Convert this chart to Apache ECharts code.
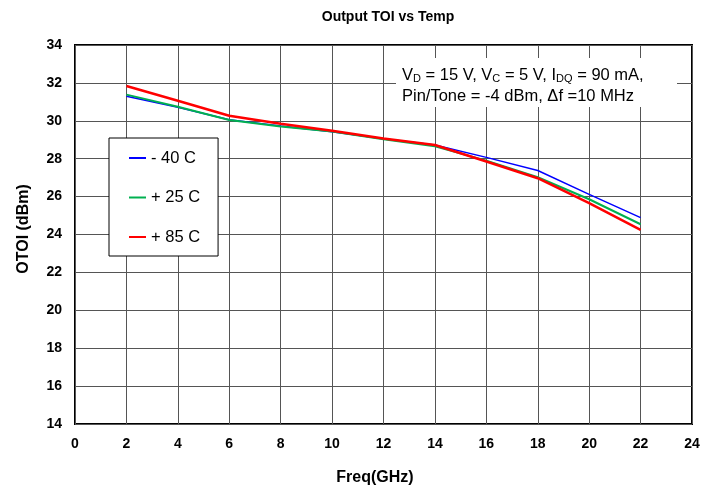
<!DOCTYPE html>
<html>
<head>
<meta charset="utf-8">
<script src="https://cdn.jsdelivr.net/npm/echarts@6/dist/echarts.min.js"></script>
<style>
  html, body { margin: 0; padding: 0; background: #fff; }
  #chart { width: 717px; height: 487px; }
</style>
</head>
<body>
<div id="chart"></div>
<script>
// Frequency points (GHz)
const freqGHz = [2, 4, 6, 8, 10, 12, 14, 16, 18, 20, 22];

// Output TOI (dBm) per temperature
const toiMinus40 = [31.30, 30.72, 30.05, 29.72, 29.42, 29.05, 28.72, 28.07, 27.38, 26.12, 24.89];
const toiPlus25  = [31.38, 30.74, 30.04, 29.70, 29.43, 29.03, 28.65, 27.90, 27.02, 25.86, 24.54];
const toiPlus85  = [31.84, 31.06, 30.27, 29.85, 29.48, 29.07, 28.72, 27.85, 26.97, 25.65, 24.24];

const seriesNames = ['- 40 C', '+ 25 C', '+ 85 C'];

const FONT = 'Arial, "Liberation Sans", Helvetica, sans-serif';

function pairs(xs, ys) {
  return xs.map((x, i) => [x, ys[i]]);
}

const chart = echarts.init(document.getElementById('chart'), null, { renderer: 'canvas' });

chart.setOption({
  backgroundColor: '#ffffff',
  animation: false,
  title: {
    text: 'Output TOI vs Temp',
    left: 383, top: 5,
    textAlign: 'center',
    textStyle: { fontFamily: FONT, fontSize: 14, fontWeight: 'bold', color: '#000' }
  },
  grid: {
    left: 75, right: 25, top: 45, bottom: 63,
    outerBoundsMode: 'none',
    containLabel: false,
    show: true, borderColor: '#000', borderWidth: 2, backgroundColor: 'transparent'
  },
  legend: {
    orient: 'vertical',
    left: 109, top: 138,
    padding: [10, 18, 9, 20],
    itemGap: 19.5,
    itemWidth: 17, itemHeight: 2,
    icon: 'rect',
    backgroundColor: '#fff',
    borderColor: '#000', borderWidth: 1,
    data: seriesNames,
    textStyle: { fontFamily: FONT, fontSize: 16.5, color: '#000', lineHeight: 20 }
  },
  xAxis: {
    type: 'value', min: 0, max: 24, interval: 2,
    name: 'Freq(GHz)', nameLocation: 'middle', nameGap: 46,
    nameTextStyle: { fontFamily: FONT, fontSize: 16, fontWeight: 'bold', color: '#000', padding: [0, 17, 0, 0] },
    axisLine: { show: false },
    axisTick: { show: false },
    axisLabel: { fontFamily: FONT, fontSize: 14, fontWeight: 'bold', color: '#000', margin: 13 },
    splitLine: { show: true, lineStyle: { color: '#555', width: 1 } }
  },
  yAxis: {
    type: 'value', min: 14, max: 34, interval: 2,
    name: 'OTOI (dBm)', nameLocation: 'middle', nameGap: 43, nameRotate: 90,
    nameTextStyle: { fontFamily: FONT, fontSize: 16, fontWeight: 'bold', color: '#000', padding: [0, 0, 0, 11] },
    axisLine: { show: false },
    axisTick: { show: false },
    axisLabel: { fontFamily: FONT, fontSize: 14, fontWeight: 'bold', color: '#000', margin: 13 },
    splitLine: { show: true, lineStyle: { color: '#555', width: 1 } }
  },
  graphic: [
    {
      type: 'rect', z: 10,
      shape: { x: 396, y: 58, width: 281, height: 49 },
      style: { fill: '#fff', stroke: null }
    },
    {
      type: 'text', z: 11,
      x: 402, y: 63,
      style: {
        text: '{n|V}{s|D}{n| = 15 V, V}{s|C}{n| = 5 V, I}{s|DQ}{n| = 90 mA,}\n{n|Pin/Tone = -4 dBm, \u0394f =10 MHz}',
        rich: {
          n: { fontFamily: FONT, fontSize: 16.5, color: '#000', lineHeight: 21, verticalAlign: 'bottom' },
          s: { fontFamily: FONT, fontSize: 11, color: '#000', lineHeight: 21, verticalAlign: 'bottom', padding: [6, 0, 0, 0] }
        }
      }
    }
  ],
  series: [
    {
      name: seriesNames[0], type: 'line', symbol: 'none', z: 2,
      data: pairs(freqGHz, toiMinus40),
      itemStyle: { color: '#0000ff' },
      lineStyle: { color: '#0000ff', width: 1.5 }
    },
    {
      name: seriesNames[1], type: 'line', symbol: 'none', z: 3,
      data: pairs(freqGHz, toiPlus25),
      itemStyle: { color: '#00b050' },
      lineStyle: { color: '#00b050', width: 2 }
    },
    {
      name: seriesNames[2], type: 'line', symbol: 'none', z: 4,
      data: pairs(freqGHz, toiPlus85),
      itemStyle: { color: '#ff0000' },
      lineStyle: { color: '#ff0000', width: 2.5 }
    }
  ]
});
</script>
</body>
</html>
